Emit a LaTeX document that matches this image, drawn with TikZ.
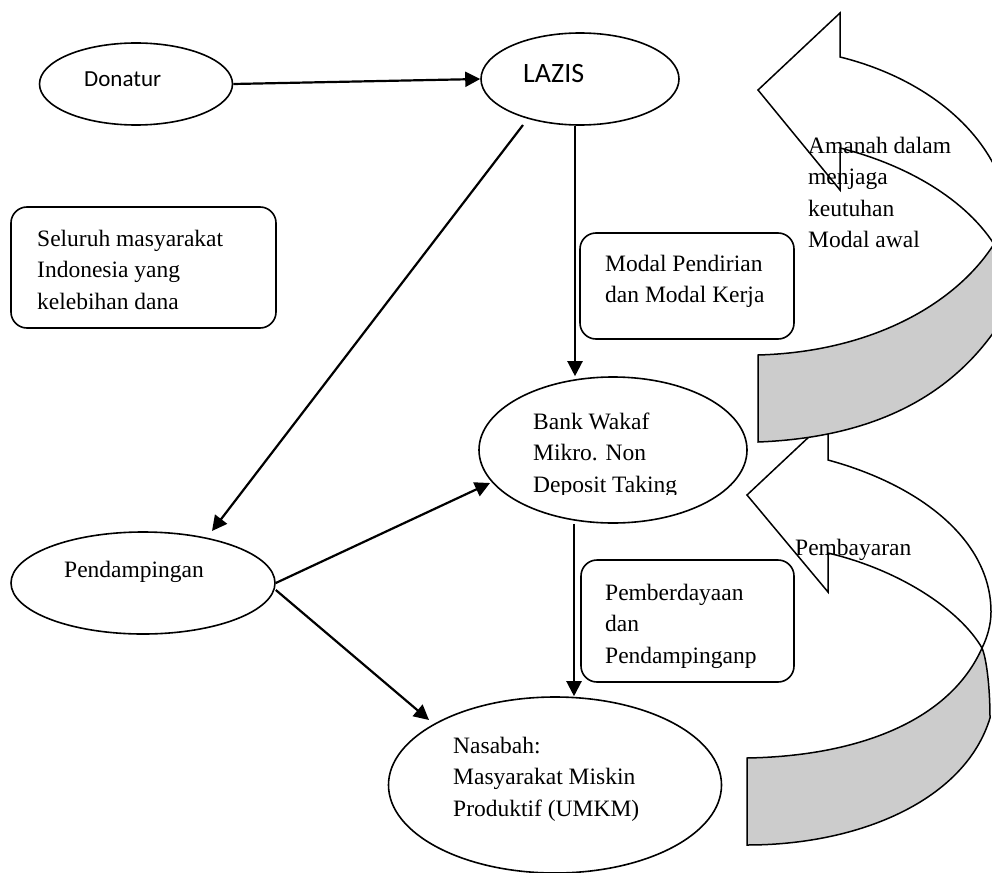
\documentclass[tikz,border=0pt]{standalone}
\usepackage{fontspec}
\setmainfont{Liberation Serif}
\newfontfamily\calibrifont{Carlito}
\usetikzlibrary{shapes.geometric,arrows.meta,calc}
\definecolor{backgray}{RGB}{204,204,204}
\newcommand\myst{\rule{0pt}{17pt}}
\begin{document}
\begin{tikzpicture}[x=1pt,y=-1pt,
  ell/.style={draw, ellipse, line width=1.6pt, inner sep=0pt},
  rbox/.style={draw, rectangle, rounded corners=16pt, line width=1.6pt, inner sep=0pt},
  txt/.style={font=\fontsize{23.5}{31.5}\selectfont, inner sep=0pt, align=left, anchor=north west},
  conn/.style={line width=2.2pt, -{Triangle[length=15pt,width=15pt]}},
  front/.style={draw, fill=white, line width=1.5pt, line join=miter},
  back/.style={draw, fill=backgray, line width=1.5pt, line join=miter}]
\useasboundingbox (0,0) rectangle (992,872);
\clip (0,0) rectangle (992,872);

% ---- lower curved arrow (Pembayaran)
\filldraw[back] (747,758) .. controls (860,756) and (950,720) .. (982,648)
  .. controls (987,660) and (990,690) .. (990,718)
  .. controls (965,800) and (860,845) .. (747,845) -- cycle;
\filldraw[front] (747,495) -- (828,419) -- (828,460)
  .. controls (920,485) and (991,540) .. (991,612)
  .. controls (991,625) and (987,638) .. (982,648)
  .. controls (960,610) and (900,570) .. (828,553) -- (828,592) -- cycle;

% ---- upper curved arrow (Amanah)
\filldraw[back] (758,355) .. controls (870,352) and (955,305) .. (994,244)
  -- (1010,244) -- (1010,326) -- (998,326)
  .. controls (945,405) and (860,438) .. (758,442) -- cycle;
\filldraw[front] (758,90) -- (840,13) -- (840,57)
  .. controls (905,73) and (965,110) .. (994,165)
  -- (1010,165) -- (1010,244) -- (994,244)
  .. controls (962,195) and (900,163) .. (840,148) -- (840,190) -- cycle;

% ---- ellipses
\node[ell, minimum width=193pt, minimum height=82pt] (don) at (136,84) {};
\node[ell, minimum width=198pt, minimum height=92pt] (laz) at (580,79) {};
\node[ell, minimum width=268pt, minimum height=146pt] (bwk) at (613,450) {};
\node[ell, minimum width=264pt, minimum height=102pt] (pen) at (143,583) {};
\node[ell, minimum width=333pt, minimum height=176pt] (nas) at (555,785) {};

% ---- rounded boxes
\node[rbox, minimum width=265pt, minimum height=121pt] (sel) at (143.5,267.5) {};
\node[rbox, minimum width=214pt, minimum height=106pt] (mod) at (687,286) {};
\node[rbox, minimum width=213pt, minimum height=122pt] (pem) at (687.5,621) {};

% ---- connectors
\draw[conn] (don.east) -- (laz.west);
\draw[conn] ($(laz.center)+(-57,46)$) -- ($(pen.center)+(69,-52)$);
\draw[conn] ($(laz.south)+(-5,0)$) -- ($(bwk.north)+(-38,0)$);
\draw[conn] (pen.east) -- ($(bwk.center)+(-123,33)$);
\draw[conn] ($(pen.east)+(0,7)$) -- ($(nas.center)+(-126,-65)$);
\draw[conn] ($(bwk.south)+(-39,0)$) -- ($(nas.north)+(19,0)$);

% ---- texts
\node[inner sep=0pt, anchor=base west, font=\calibrifont\fontsize{23}{28}\selectfont] (donT) at (84,86.5) {Donatur};
\node[inner sep=0pt, anchor=base west, font=\calibrifont\fontsize{28}{34}\selectfont] (lazT) at (523,83) {LAZIS};
\node[txt] (selT) at (37,229) {\myst Seluruh masyarakat\\Indonesia yang\\kelebihan dana};
\node[txt] (modT) at (605,254) {\myst Modal Pendirian\\dan Modal Kerja};
\begin{scope}
\clip (470,380) rectangle (760,494);
\node[txt] (bwkT) at (533,412) {\myst Bank Wakaf\\Mikro. Non\\Deposit Taking};
\end{scope}
\node[txt, anchor=base west] (penT) at (64,577) {Pendampingan};
\node[txt] (pemT) at (605,583) {\myst Pemberdayaan\\dan\\Pendampinganp};
\node[txt] (nasT) at (453,736) {\myst Nasabah:\\Masyarakat Miskin\\Produktif (UMKM)};
\node[txt] (amaT) at (808,136) {\myst Amanah dalam\\menjaga\\keutuhan\\Modal awal};
\node[txt, anchor=base west] (bayT) at (795,555) {Pembayaran};
\end{tikzpicture}
\end{document}
